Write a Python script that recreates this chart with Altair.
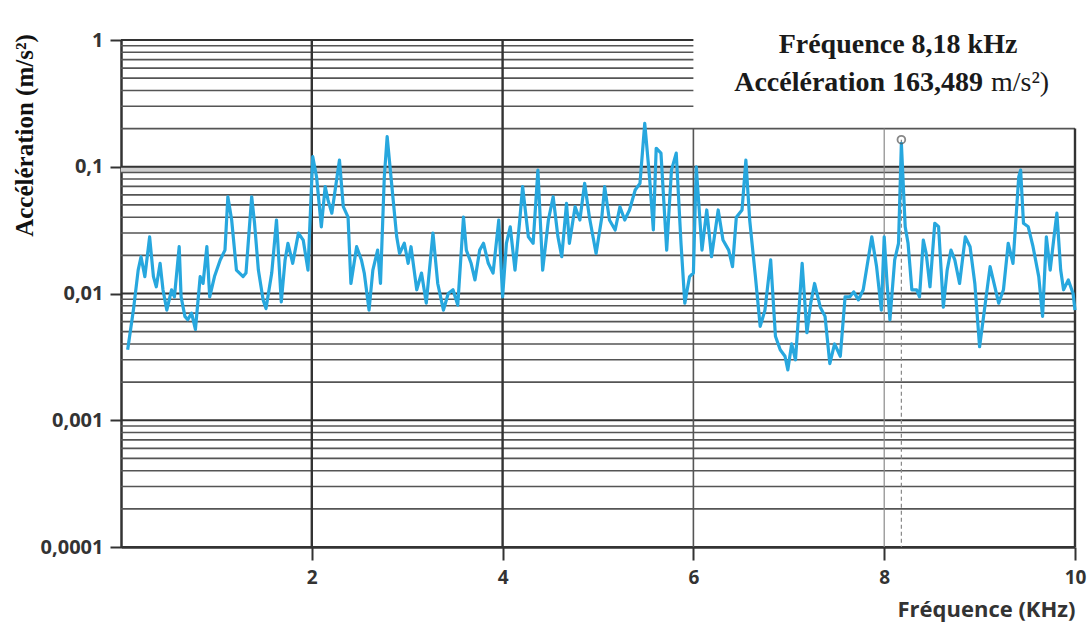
import altair as alt
import pandas as pd

# Spectre d'accélération (échelle log) entre 0 et 10 kHz
freq_khz = [0.07, 0.13, 0.18, 0.21, 0.25, 0.30, 0.34, 0.37, 0.41, 0.44, 0.48, 0.53, 0.56, 0.61, 0.63, 0.67,
            0.70, 0.74, 0.78, 0.83, 0.86, 0.90, 0.93, 0.98, 1.04, 1.09, 1.12, 1.16, 1.21, 1.28, 1.31, 1.37,
            1.40, 1.44, 1.49, 1.52, 1.58, 1.63, 1.68, 1.72, 1.75, 1.80, 1.86, 1.91, 1.96, 2.01, 2.05, 2.10,
            2.14, 2.17, 2.21, 2.24, 2.29, 2.33, 2.38, 2.41, 2.47, 2.52, 2.55, 2.60, 2.64, 2.69, 2.72, 2.76,
            2.79, 2.83, 2.89, 2.92, 2.97, 3.01, 3.04, 3.10, 3.15, 3.20, 3.27, 3.32, 3.38, 3.43, 3.48, 3.53,
            3.59, 3.62, 3.67, 3.71, 3.76, 3.80, 3.85, 3.90, 3.96, 4.00, 4.04, 4.08, 4.13, 4.18, 4.21, 4.27,
            4.32, 4.37, 4.42, 4.48, 4.53, 4.58, 4.62, 4.67, 4.70, 4.76, 4.81, 4.86, 4.91, 4.98, 5.04, 5.07,
            5.12, 5.18, 5.23, 5.28, 5.33, 5.39, 5.44, 5.49, 5.54, 5.58, 5.61, 5.66, 5.72, 5.77, 5.82, 5.87,
            5.91, 5.96, 6.00, 6.03, 6.09, 6.14, 6.19, 6.26, 6.31, 6.37, 6.41, 6.45, 6.51, 6.55, 6.59, 6.65,
            6.70, 6.75, 6.81, 6.86, 6.91, 6.96, 6.99, 7.03, 7.07, 7.14, 7.19, 7.23, 7.27, 7.33, 7.38, 7.43,
            7.48, 7.54, 7.59, 7.64, 7.68, 7.73, 7.78, 7.87, 7.92, 7.97, 8.00, 8.03, 8.06, 8.11, 8.15, 8.18,
            8.22, 8.25, 8.29, 8.34, 8.37, 8.41, 8.44, 8.48, 8.53, 8.57, 8.62, 8.66, 8.70, 8.74, 8.79, 8.85,
            8.90, 8.95, 9.00, 9.06, 9.11, 9.16, 9.20, 9.25, 9.30, 9.35, 9.41, 9.43, 9.46, 9.51, 9.56, 9.62,
            9.66, 9.70, 9.74, 9.78, 9.81, 9.85, 9.88, 9.93, 9.98, 10.0]

accel = [0.0036, 0.0074, 0.0153, 0.0195, 0.0136, 0.028, 0.0136, 0.0113, 0.0173, 0.0107, 0.0074, 0.0107,
         0.0094, 0.0234, 0.0094, 0.0066, 0.0062, 0.0070, 0.0052, 0.0136, 0.012, 0.0234, 0.0094, 0.0136,
         0.0184, 0.022, 0.058, 0.038, 0.0153, 0.0136, 0.0145, 0.058, 0.0358, 0.0153, 0.0089, 0.0076,
         0.0145, 0.038, 0.0086, 0.0184, 0.0249, 0.0173, 0.030, 0.0264, 0.0153, 0.12, 0.083, 0.0336,
         0.0696, 0.0547, 0.043, 0.0617, 0.113, 0.0484, 0.040, 0.012, 0.0234, 0.0184, 0.0145, 0.0074,
         0.0153, 0.022, 0.012, 0.083, 0.173, 0.083, 0.028, 0.0207, 0.0249, 0.0173, 0.0234, 0.0107,
         0.0145, 0.0084, 0.030, 0.012, 0.0074, 0.010, 0.0107, 0.0081, 0.040, 0.022, 0.0173, 0.0128,
         0.022, 0.0249, 0.0173, 0.0145, 0.038, 0.0094, 0.0249, 0.0336, 0.0153, 0.038, 0.0696, 0.028,
         0.0249, 0.094, 0.0153, 0.038, 0.058, 0.028, 0.0195, 0.0514, 0.0249, 0.0484, 0.038, 0.074,
         0.040, 0.0207, 0.040, 0.0696, 0.038, 0.0317, 0.0484, 0.038, 0.0456, 0.0656, 0.074, 0.22,
         0.083, 0.0317, 0.14, 0.128, 0.022, 0.094, 0.128, 0.0249, 0.0084, 0.0136, 0.0145, 0.10,
         0.022, 0.0456, 0.0195, 0.0456, 0.0264, 0.022, 0.0163, 0.040, 0.0456, 0.113, 0.038, 0.0136,
         0.0055, 0.0074, 0.0184, 0.0046, 0.0036, 0.0032, 0.0025, 0.0040, 0.0030, 0.0173, 0.0049, 0.0084,
         0.012, 0.0078, 0.0066, 0.0028, 0.0040, 0.0032, 0.0094, 0.0094, 0.0103, 0.0089, 0.0107, 0.028,
         0.0163, 0.0074, 0.028, 0.012, 0.0062, 0.0184, 0.0249, 0.153, 0.0336, 0.0249, 0.0107, 0.0107,
         0.0094, 0.0264, 0.0207, 0.0113, 0.0358, 0.0336, 0.0078, 0.0153, 0.022, 0.0184, 0.012, 0.028,
         0.0234, 0.012, 0.0038, 0.0084, 0.0163, 0.0113, 0.0084, 0.0107, 0.0249, 0.0173, 0.083, 0.094,
         0.0358, 0.0336, 0.0234, 0.0136, 0.0066, 0.028, 0.0153, 0.028, 0.043, 0.0153, 0.0107, 0.0128,
         0.010, 0.0074]

# Pic repéré
peak_freq = 8.18
peak_accel = 0.163489

# Graduations
decades = [0.0001, 0.001, 0.01, 0.1, 1]
mantissas = [1, 2, 3, 4, 5, 6, 7, 8, 9]
x_ticks = [2, 4, 6, 8, 10]

# Lignes verticales du quadrillage : position, sommet, couleur, épaisseur
vgrid_x = [2, 4, 6, 8, 10]
vgrid_top = [1, 1, 0.2, 0.2, 0.2]
vgrid_color = ["#333333", "#333333", "#555555", "#8a8a8a", "#333333"]
vgrid_width = [2.4, 2.4, 1.6, 1.2, 2.4]

X_MIN, X_MAX = 0, 10
Y_MIN, Y_MAX = 0.0001, 1
BOX_LEFT = 6      # le cadre du texte interrompt le quadrillage à droite de 6 kHz
BOX_BOTTOM = 0.2

x_scale = alt.Scale(domain=[X_MIN, X_MAX], nice=False, zero=False)
y_scale = alt.Scale(type="log", domain=[Y_MIN, Y_MAX], nice=False)

label_font = "Open Sans"
serif = "Liberation Serif"

x_axis = alt.Axis(values=x_ticks, grid=False, domain=True, domainColor="#333333", domainWidth=2.5,
                  ticks=True, tickColor="#333333", tickWidth=2, tickSize=13,
                  labelFont=label_font, labelFontWeight="bold", labelFontSize=19,
                  labelColor="#333333", labelPadding=8, labelFlush=False, labelOverlap=False,
                  title="Fréquence (KHz)", titleFont=label_font, titleFontWeight="bold",
                  titleFontSize=22, titleColor="#333333", titleAnchor="end", titlePadding=12)

y_axis = alt.Axis(values=decades, grid=False, domain=True, domainColor="#333333", domainWidth=2.5,
                  ticks=True, tickColor="#333333", tickWidth=2, tickSize=11,
                  labelExpr="replace(format(datum.value, '~g'), '.', ',')",
                  labelFont=label_font, labelFontWeight="bold", labelFontSize=20,
                  labelColor="#333333", labelPadding=7, labelOverlap=False, labelFlush=False,
                  title="Accélération (m/s²)", titleFont=serif, titleFontWeight="bold",
                  titleFontSize=25, titleColor="#111111", titleAngle=270,
                  titleX=-97, titleY=95, titleAlign="center", titleBaseline="middle")


def X(field):
    return alt.X(field, scale=x_scale, axis=x_axis)


def Y(field):
    return alt.Y(field, scale=y_scale, axis=y_axis)


# Quadrillage horizontal (1..9 par décade)
hrows = []
for d in decades[:-1]:
    for m in mantissas:
        v = round(d * m, 6)
        hrows.append({
            "v": v,
            "x0": X_MIN,
            "x1": BOX_LEFT if v > BOX_BOTTOM + 1e-9 else X_MAX,
            "col": "#333333" if m == 1 else "#555555",
            "w": 2.2 if m == 1 else 1.6,
        })
hrows.append({"v": decades[-1], "x0": X_MIN, "x1": BOX_LEFT, "col": "#333333", "w": 2.2})
hgrid_df = pd.DataFrame(hrows)

vgrid_df = pd.DataFrame({"x": vgrid_x, "top": vgrid_top, "bottom": [Y_MIN] * len(vgrid_x),
                         "col": vgrid_color, "w": vgrid_width})

spec_df = pd.DataFrame({"f": freq_khz, "a": accel})
peak_df = pd.DataFrame({"f": [peak_freq], "a": [peak_accel], "low": [Y_MIN]})

# Bande grise claire sous la ligne 0,1
band = alt.Chart(pd.DataFrame({"v": [0.095], "x0": [X_MIN], "x1": [X_MAX]})).mark_rule(
    color="#cfcfcf", strokeWidth=6
).encode(x=X("x0:Q"), x2="x1:Q", y=Y("v:Q"))

hgrid = alt.Chart(hgrid_df).mark_rule().encode(
    x=X("x0:Q"), x2="x1:Q", y=Y("v:Q"),
    color=alt.Color("col:N", scale=None),
    strokeWidth=alt.StrokeWidth("w:Q", scale=None),
)

vgrid = alt.Chart(vgrid_df).mark_rule().encode(
    x=X("x:Q"), y=Y("top:Q"), y2="bottom:Q",
    color=alt.Color("col:N", scale=None),
    strokeWidth=alt.StrokeWidth("w:Q", scale=None),
)

peak_line = alt.Chart(peak_df).mark_rule(color="#888888", strokeWidth=1.2, strokeDash=[4, 3]).encode(
    x=X("f:Q"), y=Y("a:Q"), y2="low:Q",
)

spectrum = alt.Chart(spec_df).mark_line(color="#27a7de", strokeWidth=3.2, strokeJoin="round").encode(
    x=X("f:Q"), y=Y("a:Q"),
)

peak_marker = alt.Chart(peak_df).mark_point(shape="circle", filled=False, color="#555555",
                                            size=60, strokeWidth=1.8).encode(
    x=X("f:Q"), y=Y("a:Q"),
)

ann_line1 = "Fréquence 8,18 kHz"
ann_line2_bold = "Accélération 163,489"
ann_line2_unit = "m/s²)"

ann1 = alt.Chart(pd.DataFrame({"t": [ann_line1]})).mark_text(
    font=serif, fontWeight="bold", fontSize=28, color="#1a1a1a", align="center", baseline="middle"
).encode(x=alt.value(777), y=alt.value(5), text="t:N")

ann2 = alt.Chart(pd.DataFrame({"t": [ann_line2_bold]})).mark_text(
    font=serif, fontWeight="bold", fontSize=28, color="#1a1a1a", align="right", baseline="middle"
).encode(x=alt.value(862), y=alt.value(43), text="t:N")

ann3 = alt.Chart(pd.DataFrame({"t": [ann_line2_unit]})).mark_text(
    font=serif, fontSize=28, color="#1a1a1a", align="left", baseline="middle"
).encode(x=alt.value(870), y=alt.value(43), text="t:N")

chart = alt.layer(
    band, hgrid, vgrid, peak_line, spectrum, peak_marker, ann1, ann2, ann3
).properties(
    width=954, height=507,
    autosize=alt.AutoSizeParams(type="none"),
    padding={"left": 121, "top": 40, "right": 16, "bottom": 86},
    background="white",
).configure_view(stroke=None)

chart.save("out.html", embed_options={"renderer": "svg", "actions": False})
